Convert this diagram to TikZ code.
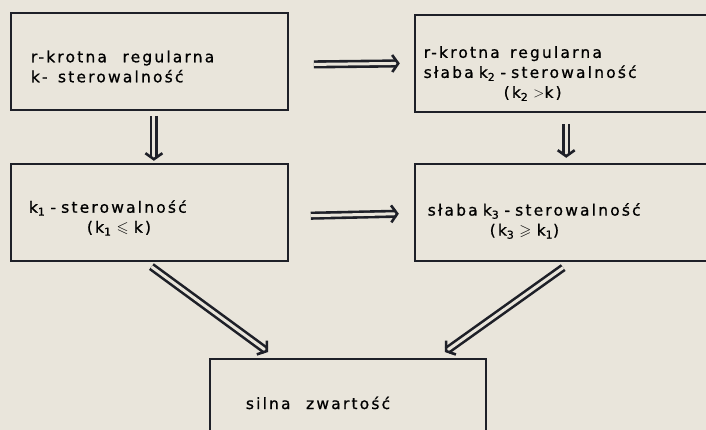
\documentclass[tikz,border=0pt]{standalone}
\usepackage{amssymb}
\usepackage{fontspec}
\setmainfont{DejaVu Sans}[LetterSpace=14, FakeBold=0.8]
\usetikzlibrary{arrows.meta, positioning}
\definecolor{paper}{RGB}{233,229,219}
\definecolor{ink}{RGB}{30,32,40}
\newcommand{\toppad}[1]{\rule{0pt}{#1}}

\begin{document}
\begin{tikzpicture}[
			x=1pt, y=-1pt,
			box/.style={draw=ink, line width=1.8pt, align=left, font=\fontsize{15.5}{20}\selectfont, inner ysep=0pt, minimum height=97pt},
			arrow/.style={draw=ink, line width=2.6pt, double=paper, double distance=3pt, -{Straight Barb[length=6pt, width=17pt, line width=2.6pt]}}
		]
		\fill[paper] (0,0) rectangle (706,430);
		\useasboundingbox (0,0) rectangle (706,430);

		\node[box, anchor=north west, inner xsep=20pt, text width=237pt] (rkrotna) at (10,12) {\toppad{22pt}r-krotna\ \ \ regularna\\k-\ \ sterowalność};
		\node[box, below right=2pt and 125pt of rkrotna.north east, anchor=north west, inner xsep=9pt, text width=285pt] (slaba) {\toppad{32pt}r-krotna\ \ regularna\\słaba k\textsubscript{2} - sterowalność\\\hspace*{80pt}(k\textsubscript{2} $>$k)};
		\node[box, below=52pt of rkrotna, inner xsep=18pt, text width=241pt] (sterk) {\toppad{24pt}k\textsubscript{1} - sterowalność\\\hspace*{58pt}(k\textsubscript{1} $\leqslant$ k)};
		\node[box, below=50pt of slaba, inner xsep=13pt, text width=277pt] (slabak) {\toppad{30pt}słaba k\textsubscript{3} - sterowalność\\\hspace*{62pt}(k\textsubscript{3} $\geqslant$ k\textsubscript{1})};
		\node[box, anchor=north west, inner xsep=18pt, text width=240pt, minimum height=88pt] (silna) at (209,358) {\hspace*{18pt}silna\ \ \ zwartość};

		\draw[arrow] ([shift={(25,3)}]rkrotna.east) -- ([xshift=-14pt]slaba.west);
		\draw[arrow] ([shift={(4.5,5)}]rkrotna.south) -- ([shift={(4.5,-2)}]sterk.north);
		\draw[arrow] ([yshift=-11pt]slaba.south) -- ([yshift=5pt]slabak.north);
		\draw[arrow] ([shift={(22,3.5)}]sterk.east) -- ([shift={(-15,1.5)}]slabak.west);
		\draw[arrow] ([shift={(2,5)}]sterk.south) -- ([shift={(59,-6)}]silna.north west);
		\draw[arrow] ([shift={(-3,6)}]slabak.south) -- ([shift={(-42,-6)}]silna.north east);
	\end{tikzpicture}
\end{document}
